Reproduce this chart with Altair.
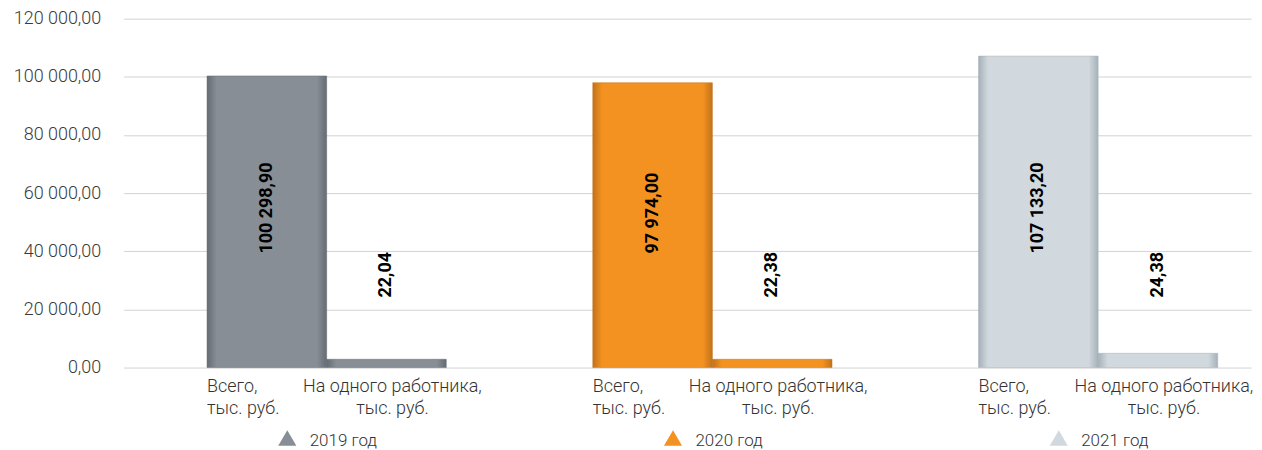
import altair as alt
import pandas as pd

years = ["2019 год", "2020 год", "2021 год"]
categories = ["Всего,\nтыс. руб.", "На одного работника,\nтыс. руб."]
total_values = [100298.90, 97974.00, 107133.20]
per_worker_values = [22.04, 22.38, 24.38]
# per-worker bars as drawn in the picture (read on the shared axis)
per_worker_drawn = [2850, 2850, 4900]
base_colors = ["#878e95", "#f39220", "#d1d9de"]
edge_colors = ["#646b72", "#c2721a", "#a5b0b8"]

rows = []
for i, yr in enumerate(years):
    rows.append(dict(year=yr, cat=0, cat_label=categories[0], value=total_values[i], bar=total_values[i]))
    rows.append(dict(year=yr, cat=1, cat_label=categories[1], value=per_worker_values[i], bar=per_worker_drawn[i]))
df = pd.DataFrame(rows)

FONT = "Roboto"

x_enc = alt.X("year:N", sort=years,
              scale=alt.Scale(domain=years, paddingInner=0.3798, paddingOuter=0.1512,
                              align=0.715, round=False),
              axis=None)
xoff = alt.XOffset("cat:O", scale=alt.Scale(domain=[0, 1], paddingInner=0, paddingOuter=0))
y_axis = alt.Axis(values=list(range(0, 120001, 20000)),
                  labelExpr="replace(replace(format(datum.value, ',.2f'), /,/g, ' '), '.', ',')",
                  title=None, ticks=False, domain=False, grid=True,
                  gridColor="#d2d2d2", gridWidth=1,
                  labelFontSize=18, labelFont=FONT, labelFontWeight=300,
                  labelColor="#3a3a3a", labelPadding=23)
y_enc = alt.Y("bar:Q", scale=alt.Scale(domain=[0, 120000], nice=False), axis=y_axis)

base = alt.Chart(df)

layers = []
for i, yr in enumerate(years):
    grad = alt.Gradient(
        gradient="linear",
        stops=[alt.GradientStop(color=edge_colors[i], offset=0),
               alt.GradientStop(color=base_colors[i], offset=0.08),
               alt.GradientStop(color=base_colors[i], offset=0.92),
               alt.GradientStop(color=edge_colors[i], offset=1)],
        x1=0, x2=1, y1=0, y2=0)
    layers.append(
        base.transform_filter(alt.datum.year == yr)
        .mark_bar(color=grad, stroke=edge_colors[i], strokeWidth=1, strokeOpacity=0.5)
        .encode(x=x_enc, xOffset=xoff, y=y_enc)
    )

lbl_expr = "replace(replace(format(datum.value, ',.2f'), /,/g, ' '), '.', ',')"

total_labels = (
    base.transform_filter(alt.datum.cat == 0)
    .transform_calculate(lbl=lbl_expr)
    .mark_text(angle=270, align="left", baseline="middle", fontSize=18,
               fontWeight="bold", font=FONT, color="#000000")
    .encode(x=x_enc, xOffset=xoff, y=alt.datum(39200), text="lbl:N")
)
worker_labels = (
    base.transform_filter(alt.datum.cat == 1)
    .transform_calculate(lbl=lbl_expr)
    .mark_text(angle=270, align="left", baseline="middle", fontSize=18,
               fontWeight="bold", font=FONT, color="#000000")
    .encode(x=x_enc, xOffset=xoff, y=alt.datum(24100), text="lbl:N")
)

cat_left = (
    base.transform_filter(alt.datum.cat == 0)
    .mark_text(align="left", baseline="top", fontSize=18, font=FONT, fontWeight=300,
               color="#333333", lineBreak="\n", lineHeight=22, dx=-60, dy=11)
    .encode(x=x_enc, xOffset=xoff, y=alt.datum(0), text="cat_label:N")
)
cat_right = (
    base.transform_filter(alt.datum.cat == 1)
    .mark_text(align="center", baseline="top", fontSize=18, font=FONT, fontWeight=300,
               color="#333333", lineBreak="\n", lineHeight=22, dx=6, dy=11)
    .encode(x=x_enc, xOffset=xoff, y=alt.datum(0), text="cat_label:N")
)

legend_tri = (
    base.transform_filter(alt.datum.cat == 0)
    .mark_point(shape="triangle-up", filled=True, opacity=1, size=330, xOffset=-39.5, yOffset=70.7)
    .encode(x=x_enc, y=alt.datum(0),
            color=alt.Color("year:N", scale=alt.Scale(domain=years, range=base_colors), legend=None))
)
legend_txt = (
    base.transform_filter(alt.datum.cat == 0)
    .mark_text(align="left", baseline="alphabetic", fontSize=17, font=FONT, fontWeight=300,
               color="#333333", dx=-17, dy=78.7)
    .encode(x=x_enc, y=alt.datum(0), text="year:N")
)

chart = alt.layer(*layers, total_labels, worker_labels, cat_left, cat_right, legend_tri, legend_txt).properties(
    width=1131, height=350,
    padding={"left": 5, "top": 1, "right": 0, "bottom": 0},
    background="#ffffff",
).configure_view(stroke=None)

chart.save("out.html", embed_options={"renderer": "svg", "actions": False})
